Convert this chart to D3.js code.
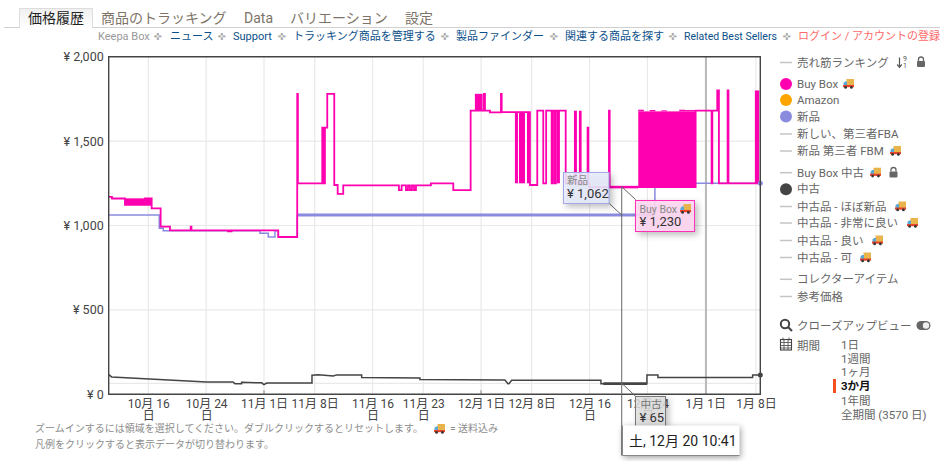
<!DOCTYPE html>
<html lang="ja">
<head>
<meta charset="utf-8">
<script src="https://cdn.jsdelivr.net/npm/d3@7/dist/d3.min.js"></script>
<style>
html,body{margin:0;padding:0;background:#fff;overflow:hidden}
svg{display:block}
text{font-family:Roboto,"Noto Sans CJK JP",sans-serif}
</style>
</head>
<body>
<svg id="c" width="940" height="461"></svg>
<script>
// ---------- data: x values are days after 16 Oct, y values are yen ----------
const yTicks = [0, 500, 1000, 1500, 2000];
const tickDays = [0, 8, 16, 23, 31, 38, 46, 53, 61, 69, 77, 84];
const tickLabels = ["10月 16 日","10月 24 日","11月 1日","11月 8日","11月 16 日","11月 23 日","12月 1日","12月 8日","12月 16 日","12月 24 日","1月 1日","1月 8日"];
const dayDomain = [-5.47, 84.6];
const buyBoxLine = [[-5.47,1170],[-5.02,1160],[-3.22,1122],[-0.46,1161],[-0.3,1122],[-0.05,1161],[0.2,1122],[0.3,1161],[0.47,1102],[1.71,993],[3.0,971],[5.86,993],[5.97,971],[17.97,932],[20.59,1780],[20.68,1250],[24.05,1580],[24.3,1250],[24.42,1580],[24.74,1780],[25.71,1240],[26.18,1187],[26.95,1238],[34.65,1210],[35.02,1238],[35.62,1210],[35.9,1238],[36.17,1210],[36.45,1238],[36.73,1210],[37.0,1238],[39.07,1250],[42.16,1210],[44.56,1680],[46.4,1780],[46.54,1680],[47.23,1670],[48.75,1780],[48.85,1672],[52.76,1240],[53.77,1680],[54.6,1250],[55.0,1680],[55.76,1250],[55.95,1680],[56.21,1250],[56.35,1680],[57.7,1250],[60.95,1227],[63.68,1680],[63.78,1227],[75.66,1680],[77.87,1250],[77.97,1680],[78.65,1800],[78.88,1250],[80.08,1800],[80.2,1250]];
const buyBoxLineEnd = [84.6,1250];
const buyBoxBands = [[-3.22,-0.46,1122,1161],[10.88,11.64,960,971],[45.15,46.22,1680,1780],[50.68,51.1,1250,1672],[51.24,52.07,1250,1672],[52.35,52.76,1250,1672],[56.49,56.9,1250,1680],[58.84,59.25,1250,1680],[59.53,59.9,1250,1680],[60.6,60.95,1250,1585],[63.68,67.73,1220,1235],[67.73,75.66,1225,1676],[67.73,68.5,1676,1686],[69.3,70.1,1676,1684],[70.9,71.7,1676,1682],[73.4,74.2,1676,1686],[74.2,75.66,1676,1684],[83.85,84.45,1250,1800]];
const newLineEarly = [[-5.47,1062],[1.52,983],[2.07,969],[15.44,954],[16.59,932],[17.51,969],[17.97,932],[20.59,1062]];
const newLineHeld = [[20.59,1062],[70.03,1062]];
const newLineLate = [[70.03,1062],[70.03,1230]];
const newLineEnd = [[75.66,1250],[84.6,1250]];
const usedLine = [[-5.47,116],[-5.06,103],[8.07,73],[11.7,73],[11.98,63],[12.9,63],[12.9,71],[15.67,68],[15.99,57],[16.37,67],[22.63,67],[22.63,113],[23.5,116],[25.57,109],[26.04,115],[29.5,115],[29.5,99],[37.55,97],[37.55,87],[48.85,85],[49.3,85],[49.72,63],[49.85,63],[50.23,83],[62.57,83],[62.57,63],[68.93,63],[68.93,115],[70.45,115],[70.45,99],[83.54,99],[83.54,115],[84.6,115]];
const usedHeld = [[62.9,63],[68.93,63]];
const hoverDay = 65.445;
const hoverNew = 1062, hoverBuyBox = 1230, hoverUsed = 65;
const yearLineDay = 77.1;
const monthMarks = [16, 46];

const tabs = ["価格履歴","商品のトラッキング","Data","バリエーション","設定"];
const navItems = ["Keepa Box","ニュース","Support","トラッキング商品を管理する","製品ファインダー","関連する商品を探す","Related Best Sellers","ログイン / アカウントの登録"];
const legendNames = ["売れ筋ランキング","Buy Box","Amazon","新品","新しい、第三者FBA","新品 第三者 FBM","Buy Box 中古","中古","中古品 - ほぼ新品","中古品 - 非常に良い","中古品 - 良い","中古品 - 可","コレクターアイテム","参考価格"];
const rangeNames = ["1日","1週間","1ヶ月","3か月","1年間","全期間 (3570 日)"];
const noteLines = ["ズームインするには領域を選択してください。ダブルクリックするとリセットします。","凡例をクリックすると表示データが切り替わります。"];

// ---------- drawing ----------
const PINK="#ff00b0", PURPLE="#8a8adf", DARK="#444", TXT="#666";
const FONT='Roboto,"Noto Sans CJK JP",sans-serif';
const svg=d3.select("#c");
const DAY=864e5, D0=Date.UTC(2025,9,16);
const toDate=d=>new Date(D0+d*DAY);
const L=108.7,R=760.3,T=56.7,B=394.3;
const x=d3.scaleUtc().domain(dayDomain.map(toDate)).range([L,R]);
const y=d3.scaleLinear().domain([0,2000]).range([B,T]);
const X=d=>x(toDate(d));
const txt=(g,s,px,py,size,fill,anchor)=>g.append("text").attr("x",px).attr("y",py).attr("dy","0.36em")
  .attr("font-size",size).attr("fill",fill).attr("text-anchor",anchor||"start").text(s);

function truck(g,px,py){ // py = vertical centre
  const t=g.append("g").attr("transform",`translate(${px},${py-5})`);
  t.append("rect").attr("x",3.5).attr("y",0).attr("width",7.5).attr("height",7).attr("fill","#e9b44c");
  t.append("path").attr("d","M0.5 7V4L2 2.4H4V7Z").attr("fill","#5aa7d6");
  t.append("rect").attr("x",0).attr("y",6).attr("width",11).attr("height",2.2).attr("fill","#e8452c");
  t.append("circle").attr("cx",2.6).attr("cy",8.4).attr("r",1.4).attr("fill","#333");
  t.append("circle").attr("cx",8.4).attr("cy",8.4).attr("r",1.4).attr("fill","#333");
}
function lock(g,px,py){
  g.append("rect").attr("x",px-4).attr("y",py-1.5).attr("width",8).attr("height",6).attr("rx",1).attr("fill","#666");
  g.append("path").attr("d",`M${px-2.5} ${py-1.5}v-1.5a2.5 2.5 0 0 1 5 0v1.5`).attr("fill","none").attr("stroke","#666").attr("stroke-width",1.3);
}

// tabs
const head=svg.append("g");
const tabDefs=svg.append("defs").append("linearGradient").attr("id","tabg").attr("x1",0).attr("x2",0).attr("y1",0).attr("y2",1);
tabDefs.append("stop").attr("offset",0).attr("stop-color","#efefef");
tabDefs.append("stop").attr("offset",1).attr("stop-color","#fff");
head.append("line").attr("x1",4).attr("x2",940).attr("y1",27.5).attr("y2",27.5).attr("stroke","#d0d0d0");
head.append("path").attr("d","M19.5 27.5V8.5H92.5V27.5").attr("fill","url(#tabg)").attr("stroke","#ddd");
head.append("line").attr("x1",20).attr("x2",92).attr("y1",27.5).attr("y2",27.5).attr("stroke","#fff");
const tabX=[28,101,244,290,405];
tabs.forEach((t,i)=>txt(head,t,tabX[i],18,14,i===0?"#222":"#7d7467"));
// nav
const navX=[98,170,233,293,456,565,684,798];
const sepX=[158,222,282,445,554,673,787];
navItems.forEach((t,i)=>txt(head,t,navX[i],36,i===6?10.5:11,i===0?"#999":i===7?"#ff6a6a":"#0b4f8a"));
sepX.forEach(px=>txt(head,"✜",px,36,10,"#aaa","middle").style("font-family","DejaVu Sans"));

// grid
const grid=svg.append("g").attr("stroke","#e9e9e9").attr("stroke-width",1.2);
[500,1000,1500].forEach(v=>grid.append("line").attr("x1",L).attr("x2",R).attr("y1",y(v)).attr("y2",y(v)));
grid.append("line").attr("x1",L).attr("x2",R).attr("y1",y(hoverUsed)).attr("y2",y(hoverUsed));
tickDays.forEach(d=>grid.append("line").attr("x1",X(d)).attr("x2",X(d)).attr("y1",T).attr("y2",B));

// axes
const yAxis=svg.append("g").attr("transform",`translate(${L},0)`)
  .call(d3.axisLeft(y).tickValues(yTicks).tickSize(0).tickPadding(5).tickFormat(v=>"¥ "+d3.format(",")(v)));
yAxis.select(".domain").remove();
yAxis.selectAll("text").attr("font-size",12.5).attr("fill",DARK).style("font-family",FONT);
const xAxis=svg.append("g").attr("transform",`translate(0,${B})`)
  .call(d3.axisBottom(x).tickValues(tickDays.map(toDate)).tickSize(0).tickFormat((d,i)=>tickLabels[i]));
xAxis.select(".domain").remove();
xAxis.selectAll("text").each(function(){
  const el=d3.select(this), s=el.text(), wrap=s.endsWith(" 日");
  el.text(null).attr("font-size",12).attr("fill",DARK).attr("y",0).attr("dy",null).style("font-family",FONT);
  el.append("tspan").attr("x",0).attr("y",14).text(wrap?s.slice(0,-2):s);
  if(wrap) el.append("tspan").attr("x",0).attr("y",25.5).text("日");
});

// year and month markers
svg.append("line").attr("x1",X(yearLineDay)).attr("x2",X(yearLineDay)).attr("y1",T).attr("y2",B).attr("stroke","#a8a8a8").attr("stroke-width",1.5);
monthMarks.forEach(d=>svg.append("line").attr("x1",X(d)).attr("x2",X(d)).attr("y1",B-4).attr("y2",B).attr("stroke","#aaa").attr("stroke-width",1.5));

// series
const lin=d3.line().x(d=>X(d[0])).y(d=>y(d[1]));
const step=d3.line().x(d=>X(d[0])).y(d=>y(d[1])).curve(d3.curveStepAfter);
const plot=svg.append("g").attr("fill","none").attr("stroke-linejoin","miter");
plot.append("path").attr("d",step(newLineEarly)).attr("stroke",PURPLE).attr("stroke-width",1.5);
plot.append("path").attr("d",lin(newLineHeld)).attr("stroke",PURPLE).attr("stroke-width",3);
plot.append("path").attr("d",lin(newLineLate)).attr("stroke",PURPLE).attr("stroke-width",1.5);
plot.append("path").attr("d",lin(newLineEnd)).attr("stroke",PURPLE).attr("stroke-width",1.5);
plot.append("path").attr("d",step(buyBoxLine.concat([buyBoxLineEnd]))).attr("stroke",PINK).attr("stroke-width",1.8);
svg.append("g").selectAll("rect").data(buyBoxBands).join("rect")
  .attr("x",d=>X(d[0])).attr("width",d=>X(d[1])-X(d[0])).attr("y",d=>y(d[3])).attr("height",d=>y(d[2])-y(d[3])).attr("fill",PINK);
plot.append("path").attr("d",lin(usedLine)).attr("stroke",DARK).attr("stroke-width",1.5);
plot.append("path").attr("d",lin(usedHeld)).attr("stroke",DARK).attr("stroke-width",2.8);
svg.append("circle").attr("cx",X(newLineEnd[1][0])).attr("cy",y(newLineEnd[1][1])).attr("r",2.5).attr("fill",PURPLE);
svg.append("circle").attr("cx",X(usedLine[usedLine.length-1][0])).attr("cy",y(usedLine[usedLine.length-1][1])).attr("r",2.5).attr("fill",DARK);

// plot frame
svg.append("path").attr("d",`M${L} ${T}H${R}V${B}H${L}Z`).attr("fill","none").attr("stroke","#444").attr("stroke-width",1.4);

// crosshair
const hx=X(hoverDay);
svg.append("line").attr("x1",hx).attr("x2",hx).attr("y1",y(hoverBuyBox)).attr("y2",455.5).attr("stroke","#666").attr("stroke-width",1);
const conn=svg.append("g").attr("stroke","#666").attr("stroke-width",1);
conn.append("line").attr("x1",hx).attr("y1",y(hoverNew)).attr("x2",hx-13).attr("y2",y(hoverNew)-12);
conn.append("line").attr("x1",hx).attr("y1",y(hoverBuyBox)).attr("x2",hx+14).attr("y2",y(hoverBuyBox)+13);
conn.append("line").attr("x1",hx).attr("y1",y(hoverUsed)).attr("x2",hx+14).attr("y2",y(hoverUsed)+13);

// tooltips
function tip(px,py,w,h,fill,stroke,op){
  return svg.append("rect").attr("x",px).attr("y",py).attr("width",w).attr("height",h)
    .attr("fill",fill).attr("fill-opacity",op).attr("stroke",stroke).attr("stroke-width",1)
    .style("filter","drop-shadow(3px 3px 3px rgba(0,0,0,.28))");
}
tip(563.5,172.5,45.5,31,"#e8ecfd","#a3a7e8",0.88);
txt(svg,"新品",567,180.5,10.5,"#888");
txt(svg,"¥ "+d3.format(",")(hoverNew),567,193,13,"#333");
tip(635.5,200.5,59,31,"#ffd8f2","#ff2fb8",0.9);
txt(svg,"Buy Box",639.5,209,10.5,"#888");
truck(svg,680,209);
txt(svg,"¥ "+d3.format(",")(hoverBuyBox),639.5,221,13,"#333");
tip(635.5,396.5,30,32,"#e2e2e2","#777",0.85);
txt(svg,"中古",640.5,404.5,10.5,"#777");
txt(svg,"¥ "+hoverUsed,639.5,417,13,"#333");
svg.append("rect").attr("x",622.5).attr("y",425.5).attr("width",117).attr("height",30).attr("fill","#fff").style("filter","drop-shadow(1px 2px 3px rgba(0,0,0,.4))");
svg.append("path").attr("d","M622.5 425.5V455.5H739.5").attr("fill","none").attr("stroke","#888");
txt(svg,"土, 12月 20 10:41",629,441,14,"#222");

// notes
txt(svg,noteLines[0],35,428.5,10,"#8c8c8c");
txt(svg,noteLines[1],35,444,10,"#8c8c8c");
truck(svg,434,429);
txt(svg,"= 送料込み",450,428.5,10,"#8c8c8c");

// legend
const legendY=[62.5,84,100,116.5,134,151,172.7,189.3,206.5,223,240.5,257.5,279.3,296.5];
const legendFill={1:PINK,2:"#ffa500",3:PURPLE,7:DARK};
const truckAfter={1:843,5:890,6:870,8:895,9:907,10:872,11:860};
legendNames.forEach((n,i)=>{
  const py=legendY[i];
  if(legendFill[i]) svg.append("circle").attr("cx",786).attr("cy",py).attr("r",6).attr("fill",legendFill[i]);
  else svg.append("line").attr("x1",780).attr("x2",792).attr("y1",py).attr("y2",py).attr("stroke","#c4c4c4").attr("stroke-width",1.5);
  txt(svg,n,797,py,11.5,TXT);
  if(truckAfter[i]) truck(svg,truckAfter[i],py);
});
// rank sort icon + locks
svg.append("path").attr("d","M899.5 57.5V67M897.2 64.5L899.5 67.3L901.8 64.5").attr("fill","none").attr("stroke","#555").attr("stroke-width",1.2);
txt(svg,"9",903,58.5,7,"#555");
txt(svg,"1",903,65.5,7,"#555");
lock(svg,921,62.5);
lock(svg,893.5,173);

// close-up view and range
svg.append("circle").attr("cx",785).attr("cy",324).attr("r",4.2).attr("fill","none").attr("stroke","#444").attr("stroke-width",2);
svg.append("line").attr("x1",788).attr("y1",327).attr("x2",792).attr("y2",331).attr("stroke","#444").attr("stroke-width",2.2);
txt(svg,"クローズアップビュー",797,325.5,11.5,TXT);
svg.append("rect").attr("x",916.5).attr("y",321).attr("width",14).attr("height",9).attr("rx",4.5).attr("fill","#666");
svg.append("circle").attr("cx",926).attr("cy",325.5).attr("r",3.2).attr("fill","#eee");
const cal=svg.append("g").attr("stroke","#444").attr("fill","none");
cal.append("rect").attr("x",780.5).attr("y",339.5).attr("width",11).attr("height",10.5).attr("stroke-width",1.1);
cal.append("path").attr("d","M780.5 342.5H791.5M780.5 345.5H791.5M780.5 348H791.5M784 340V350M788 340V350M783 337.5V340.5M789 337.5V340.5").attr("stroke-width",.8);
txt(svg,"期間",797,345.5,11.5,TXT);
const rangeY=[345,359,372,386,400.5,415];
rangeNames.forEach((n,i)=>{
  const t=txt(svg,n,841,rangeY[i],11.5,i===3?"#111":TXT);
  if(i===3) t.attr("font-weight","700");
});
svg.append("rect").attr("x",833).attr("y",379).attr("width",3).attr("height",14).attr("fill","#f4511e");
</script>
</body>
</html>
